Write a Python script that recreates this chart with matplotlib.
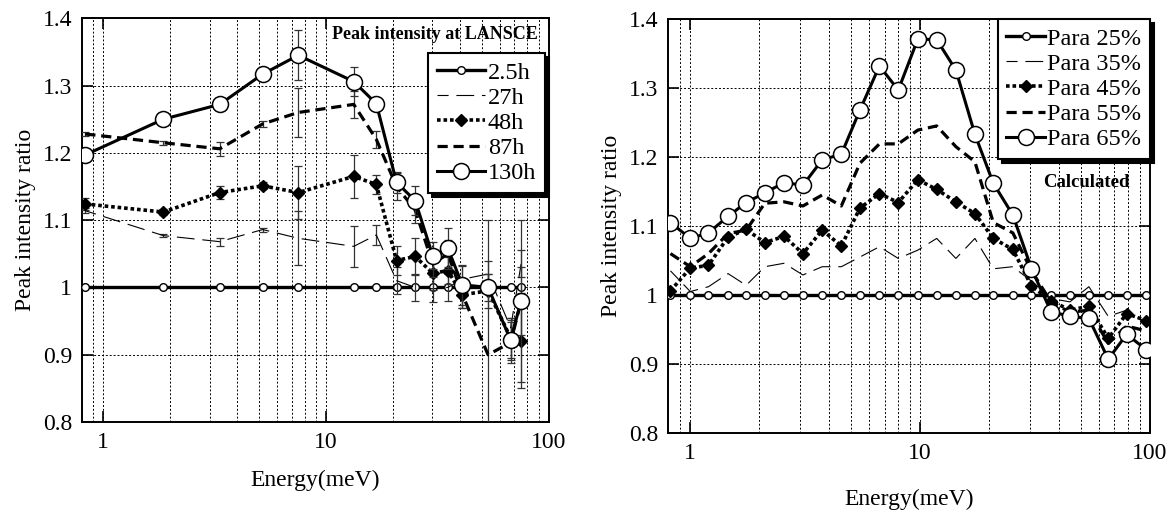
# Peak intensity ratio vs energy: LANSCE measurement and calculation

import numpy as np
import matplotlib
matplotlib.use('Agg')
import matplotlib.pyplot as plt
from matplotlib.ticker import FuncFormatter, LogLocator, NullFormatter


# --------------------------
# Data
# --------------------------

# Left panel: measured peak intensity ratio at LANSCE
energy_meas = [0.83, 1.86, 3.33, 5.19, 7.5, 13.3, 16.8, 20.7, 25.1, 30.1, 35.2, 40.8, 53.3, 67.3, 75.0]
labels_meas = ['2.5h', '27h', '48h', '87h', '130h']

ratio_2_5h = [1.0, 1.0, 1.0, 1.0, 1.0, 1.0, 1.0, 1.0, 1.0, 1.0, 1.0, 1.0, 1.0, 1.0, 1.0]
ratio_27h = [1.114, 1.077, 1.068, 1.086, 1.073, 1.061, 1.078, 1.010, 1.000, 0.998, 1.000, 1.012, 1.020, 0.940, 1.035]
ratio_48h = [1.124, 1.112, 1.141, 1.151, 1.141, 1.165, 1.153, 1.040, 1.046, 1.021, 1.025, 0.989, 0.995, 0.925, 0.921]
ratio_87h = [1.228, 1.215, 1.206, 1.243, 1.260, 1.272, 1.220, 1.150, 1.115, 1.035, 1.050, 0.990, 0.900, 0.918, 0.980]
ratio_130h = [1.197, 1.250, 1.272, 1.317, 1.345, 1.306, 1.273, 1.156, 1.129, 1.047, 1.058, 1.004, 1.000, 0.922, 0.980]

err_27h = [0.004, 0.002, 0.006, 0.003, 0.040, 0.030, 0.015, 0.020, 0.020, 0.020, 0.020, 0.020, 0.020, 0.015, 0.020]
err_48h = [0.009, 0.005, 0.010, 0.005, 0.040, 0.032, 0.014, 0.022, 0.028, 0.025, 0.020, 0.020, 0.025, 0.030, 0.070]
err_87h = [0.003, 0.003, 0.010, 0.005, 0.037, 0.020, 0.013, 0.020, 0.020, 0.020, 0.020, 0.020, 0.200, 0.030, 0.050]
err_130h = [0.004, 0.004, 0.004, 0.004, 0.037, 0.022, 0.010, 0.015, 0.022, 0.020, 0.030, 0.030, 0.020, 0.030, 0.120]

# Right panel: calculated ratio for different para fractions
energy_calc = [0.82, 1.0, 1.2, 1.46, 1.75, 2.11, 2.56, 3.09, 3.75, 4.54, 5.47, 6.65, 8.03,
               9.77, 11.8, 14.3, 17.3, 20.8, 25.3, 30.5, 37.1, 44.8, 54.2, 65.8, 79.1, 96.1]
labels_calc = ['Para 25%', 'Para 35%', 'Para 45%', 'Para 55%', 'Para 65%']

para_25 = [1.0] * 26
para_35 = [1.035, 1.005, 1.012, 1.031, 1.014, 1.041, 1.046, 1.029, 1.041, 1.041, 1.055, 1.070, 1.053,
           1.065, 1.082, 1.053, 1.082, 1.038, 1.041, 1.020, 0.995, 0.990, 1.012, 0.969, 0.978, 0.960]
para_45 = [1.006, 1.039, 1.043, 1.084, 1.095, 1.076, 1.085, 1.060, 1.094, 1.071, 1.126, 1.147, 1.134,
           1.167, 1.153, 1.135, 1.118, 1.082, 1.066, 1.013, 0.992, 0.978, 0.984, 0.937, 0.973, 0.963]
para_55 = [1.060, 1.041, 1.060, 1.089, 1.094, 1.133, 1.135, 1.129, 1.145, 1.129, 1.191, 1.219, 1.219,
           1.239, 1.245, 1.215, 1.193, 1.105, 1.090, 1.035, 0.990, 0.975, 0.978, 0.930, 0.955, 0.948]
para_65 = [1.105, 1.082, 1.090, 1.114, 1.134, 1.148, 1.163, 1.159, 1.196, 1.204, 1.268, 1.332, 1.297,
           1.371, 1.370, 1.326, 1.233, 1.162, 1.116, 1.038, 0.976, 0.969, 0.966, 0.907, 0.943, 0.921]


# --------------------------
# Styles
# --------------------------

plt.rcParams['font.family'] = ['Liberation Serif', 'DejaVu Serif']
plt.rcParams['axes.linewidth'] = 1.4

STYLES = [
    dict(color='k', lw=2.4, ls='-', marker='o', ms=5.5, mfc='white', mec='k', mew=1.0),
    dict(color='k', lw=0.8, ls=(6, (16, 7)), marker=None),
    dict(color='k', lw=2.6, ls=(0, (1.0, 0.8)), marker='D', ms=6.5, mfc='k', mec='k'),
    dict(color='k', lw=2.3, ls=(0, (3.2, 1.8)), marker=None),
    dict(color='k', lw=2.2, ls='-', marker='o', ms=11.5, mfc='white', mec='k', mew=1.1),
]


def style_axes(ax, bottom_label_pad):
    ax.set_xscale('log')
    ax.set_xlim(0.8, 100)
    ax.set_ylim(0.8, 1.4)
    ax.set_yticks([0.8, 0.9, 1.0, 1.1, 1.2, 1.3, 1.4])
    ax.yaxis.set_major_formatter(FuncFormatter(lambda v, p: '%g' % round(v, 2)))
    ax.xaxis.set_major_locator(LogLocator(base=10))
    ax.xaxis.set_minor_locator(LogLocator(base=10, subs=np.arange(2, 10)))
    ax.xaxis.set_major_formatter(FuncFormatter(lambda v, p: '%g' % v))
    ax.xaxis.set_minor_formatter(NullFormatter())
    ax.grid(True, which='both', color='k', lw=0.7, ls=(0, (2, 2)))
    ax.tick_params(which='major', direction='in', length=8, width=1.2,
                   top=True, right=True, labelsize=17, pad=7)
    ax.tick_params(which='minor', length=0)
    ax.set_xlabel('Energy(meV)', fontsize=17, labelpad=bottom_label_pad)
    ax.set_ylabel('Peak intensity ratio', fontsize=17, labelpad=5)
    ax.set_axisbelow(True)


def add_legend(ax, anchor, handle_len):
    leg = ax.legend(loc='upper right', bbox_to_anchor=anchor, borderaxespad=0,
                    fontsize=17.5, handlelength=handle_len, handletextpad=0.1,
                    labelspacing=0.13, borderpad=0.35, fancybox=False,
                    framealpha=1, edgecolor='k',
                    shadow={'ox': 3, 'oy': -3, 'color': 'k', 'alpha': 1})
    leg.get_frame().set_linewidth(1.5)
    leg.set_zorder(10)
    return leg


# --------------------------
# Figure
# --------------------------

fig = plt.figure(figsize=(11.74, 5.12), dpi=100)
ax_l = fig.add_axes([0.0696, 0.1758, 0.398, 0.7885])
ax_r = fig.add_axes([0.569, 0.1543, 0.4106, 0.8086])

# Left panel
series_meas = [ratio_2_5h, ratio_27h, ratio_48h, ratio_87h, ratio_130h]
errors_meas = [None, err_27h, err_48h, err_87h, err_130h]
for i, (vals, errs) in enumerate(zip(series_meas, errors_meas)):
    if errs is not None:
        ax_l.errorbar(energy_meas, vals, yerr=errs, fmt='none', ecolor='0.2',
                      elinewidth=0.9, capsize=2.8, capthick=0.9, zorder=2 + i)
    ax_l.plot(energy_meas, vals, label=labels_meas[i], zorder=3 + i, **STYLES[i])

style_axes(ax_l, 12)
add_legend(ax_l, (0.991, 0.914), 2.0)
ax_l.text(0.976, 0.959, 'Peak intensity at LANSCE', transform=ax_l.transAxes,
          ha='right', va='center', fontsize=13, fontweight='bold')

# Right panel
series_calc = [para_25, para_35, para_45, para_55, para_65]
for i, vals in enumerate(series_calc):
    ax_r.plot(energy_calc, vals, label=labels_calc[i], zorder=3 + i, **STYLES[i])

style_axes(ax_r, 18)
add_legend(ax_r, (1.0, 1.0), 1.6)
ax_r.text(0.867, 0.606, 'Calculated', transform=ax_r.transAxes,
          ha='center', va='center', fontsize=13.5, fontweight='bold')

fig.savefig('out.png', dpi=100)
